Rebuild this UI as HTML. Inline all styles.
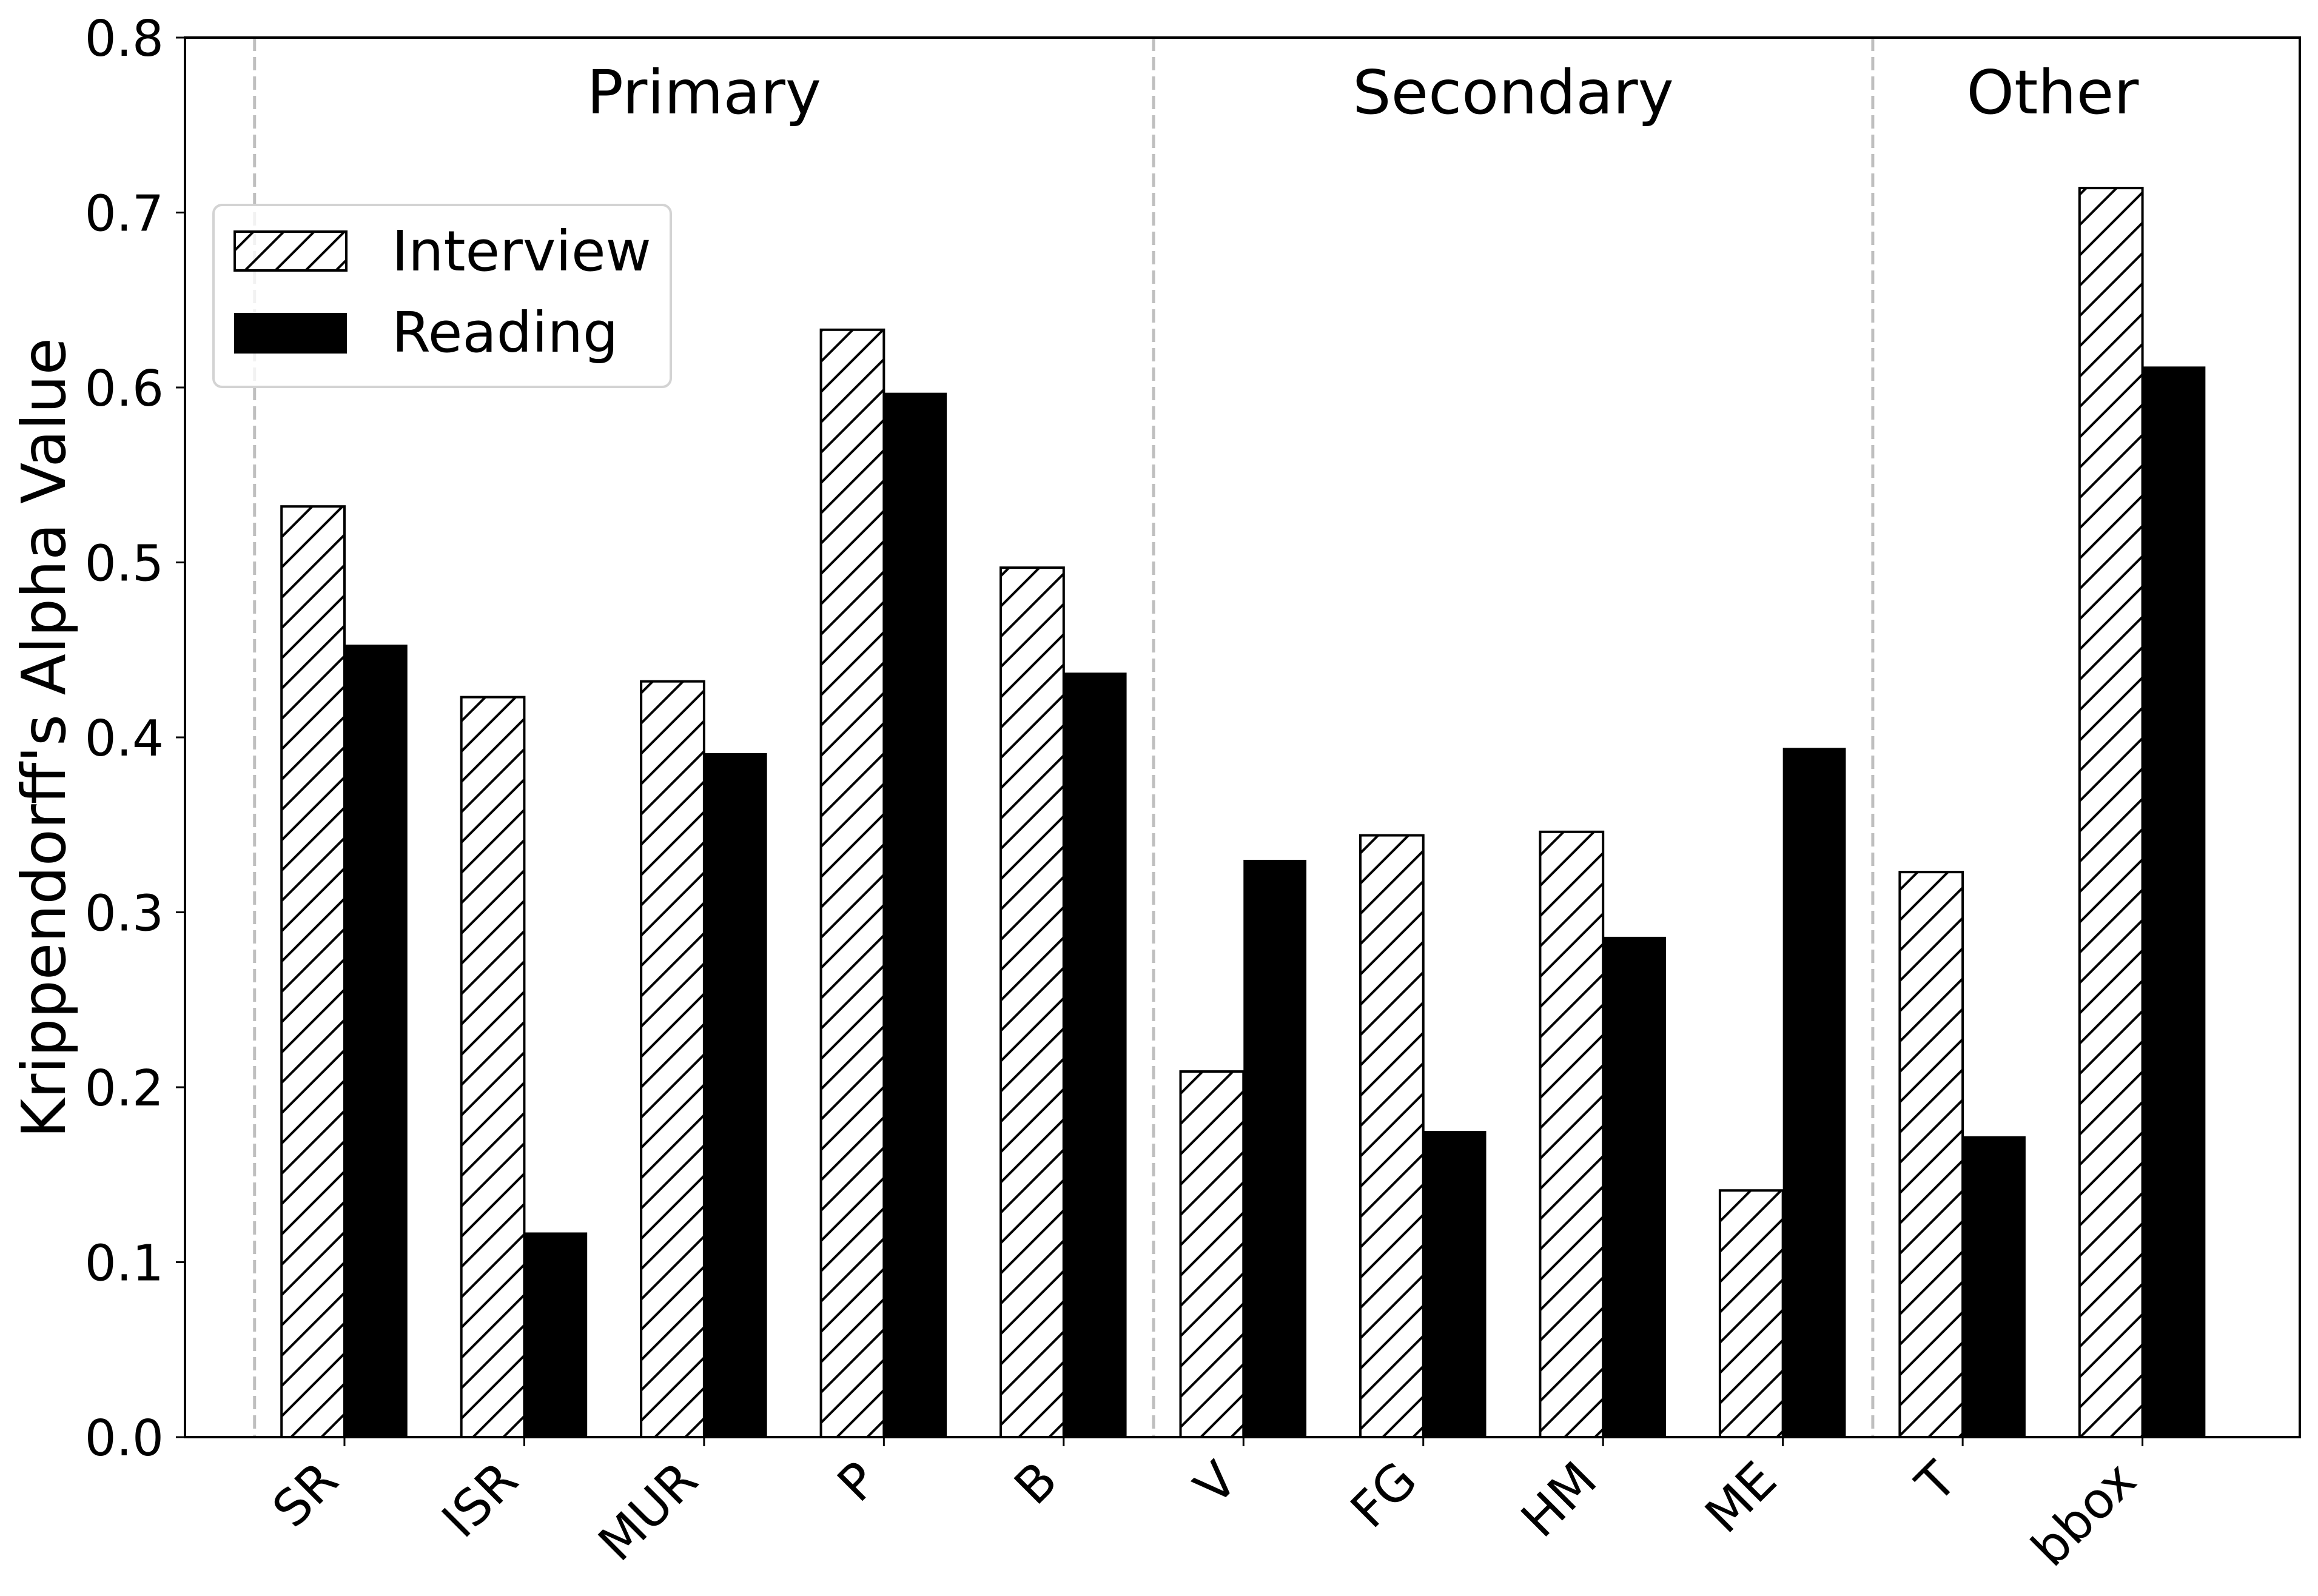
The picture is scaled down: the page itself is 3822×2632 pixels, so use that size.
<!DOCTYPE html>
<html><head><meta charset="utf-8"><style>html,body{margin:0;padding:0;background:#fff}svg{display:block}</style></head>
<body>
<svg id="chart" xmlns="http://www.w3.org/2000/svg" width="3822" height="2632" viewBox="0 0 3822 2632" font-family="DejaVu Sans, Liberation Sans, sans-serif">
<defs>
<pattern id="hatch" patternUnits="userSpaceOnUse" width="50" height="50">
<line x1="-10" y1="60" x2="60" y2="-10" stroke="#000" stroke-width="4"/>
<line x1="-60" y1="60" x2="10" y2="-10" stroke="#000" stroke-width="4"/>
<line x1="40" y1="60" x2="110" y2="-10" stroke="#000" stroke-width="4"/>
</pattern>
</defs>
<rect width="3822" height="2632" fill="#fff"/>
<g id="plot"></g>
</svg>
<script>
const categories = ["SR","ISR","MUR","P","B","V","FG","HM","ME","T","bbox"];
const interview = [0.532,0.423,0.432,0.633,0.497,0.209,0.344,0.346,0.141,0.323,0.714];
const reading = [0.453,0.117,0.391,0.597,0.437,0.330,0.175,0.286,0.394,0.172,0.612];
const yTicks = [0.0,0.1,0.2,0.3,0.4,0.5,0.6,0.7,0.8];
const groupNames = ["Primary","Secondary","Other"];
const groupCenters = [2,6.5,9.5];
const separators = [-0.5,4.5,8.5];

const L=305,R=3792,T=62,B=2370;
const xmin=-0.887,xmax=10.875,ymax=0.8;
const xs=v=>L+(v-xmin)/(xmax-xmin)*(R-L);
const ys=v=>B-v/ymax*(B-T);
const NS="http://www.w3.org/2000/svg";
const g=document.getElementById('plot');
function mk(tag,attrs,parent){const e=document.createElementNS(NS,tag);for(const k in attrs)e.setAttribute(k,attrs[k]);(parent||g).appendChild(e);return e;}
const bw=0.35;

separators.forEach(s=>{
  const e=mk('line',{x1:xs(s),x2:xs(s),y1:T,y2:B,stroke:'#bfbfbf','stroke-width':5,'stroke-dasharray':'22,10'});
  
  
});

categories.forEach((c,i)=>{
  const a=mk('rect',{x:xs(i-bw),y:ys(interview[i]),width:xs(i)-xs(i-bw),height:ys(0)-ys(interview[i]),fill:'url(#hatch)',stroke:'#000','stroke-width':4});
  
  
  const b=mk('rect',{x:xs(i),y:ys(reading[i]),width:xs(i+bw)-xs(i),height:ys(0)-ys(reading[i]),fill:'#000'});
  
  
  const tk=mk('line',{x1:xs(i),x2:xs(i),y1:B,y2:B+15,stroke:'#000','stroke-width':3});
  
  
  const px=xs(i)-6,py=2446;
  const t=mk('text',{x:px,y:py,'text-anchor':'end','font-size':82,transform:`rotate(-45 ${px} ${py})`});
  t.textContent=c;
  
  
});

yTicks.forEach(v=>{
  const tk=mk('line',{x1:L-15,x2:L,y1:ys(v),y2:ys(v),stroke:'#000','stroke-width':3});
  
  
  const t=mk('text',{x:270,y:ys(v)+30,'text-anchor':'end','font-size':82});
  t.textContent=v.toFixed(1);
  
  
});

groupNames.forEach((n,i)=>{
  const t=mk('text',{x:xs(groupCenters[i]),y:187,'text-anchor':'middle','font-size':100});
  t.textContent=n;
  
  
});

const frame=mk('rect',{x:L,y:T,width:R-L,height:B-T,fill:'none',stroke:'#000','stroke-width':4});



const yl=mk('text',{x:107,y:1217,'text-anchor':'middle','font-size':100,transform:'rotate(-90 107 1217)',textLength:1320,lengthAdjust:'spacingAndGlyphs'});
yl.textContent="Krippendorff's Alpha Value";



const lg=mk('g',{});


mk('rect',{x:352,y:338,width:754,height:300,rx:14,fill:'#fff','fill-opacity':0.8,stroke:'#d3d3d3','stroke-width':4},lg);
const h1=mk('rect',{x:387,y:382,width:184,height:64,fill:'url(#hatch)',stroke:'#000','stroke-width':4},lg);


const t1=mk('text',{x:646,y:446,'font-size':92},lg);
t1.textContent='Interview';


const h2=mk('rect',{x:386,y:516,width:186,height:67,fill:'#000'},lg);


const t2=mk('text',{x:646,y:580,'font-size':92},lg);
t2.textContent='Reading';


</script>
</body></html>
